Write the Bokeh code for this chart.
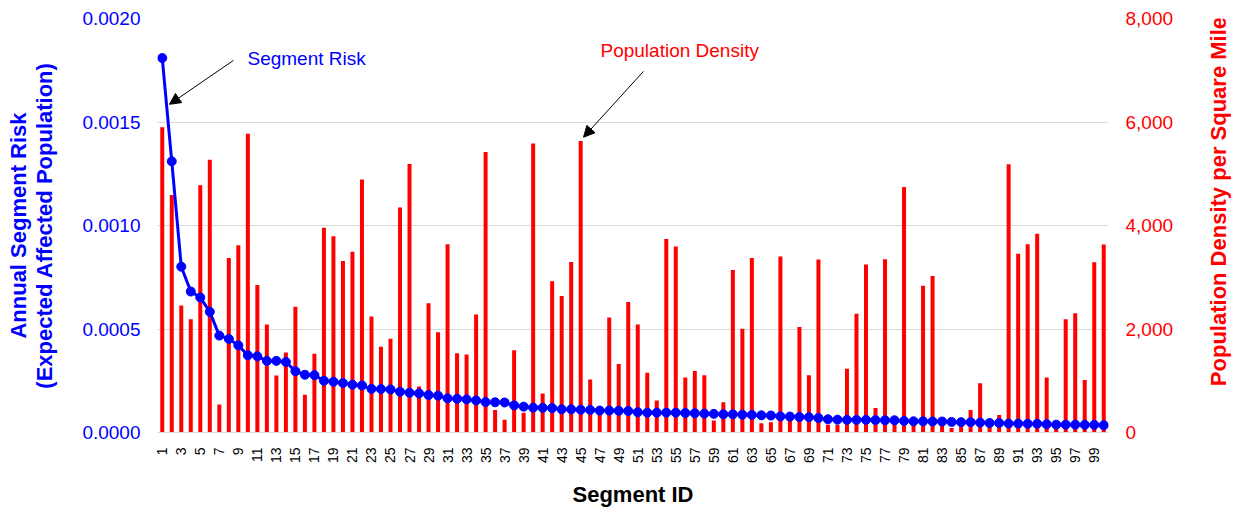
import math
from bokeh.plotting import figure
from bokeh.layouts import row
from bokeh.models import Range1d, LinearAxis, FixedTicker, NumeralTickFormatter, Label, Arrow, NormalHead, ColumnDataSource
from bokeh.embed import file_html
from bokeh.resources import INLINE

segment_ids = list(range(1, 101))

population_density = [
    5900, 4590, 2455, 2190, 4780, 5270, 540, 3370, 3620, 5775,
    2850, 2085, 1100, 1545, 2430, 730, 1520, 3955, 3790, 3315,
    3495, 4890, 2240, 1655, 1810, 4350, 5190, 890, 2500, 1935,
    3640, 1530, 1505, 2280, 5420, 435, 245, 1590, 380, 5585,
    755, 2925, 2640, 3295, 5635, 1025, 350, 2220, 1325, 2520,
    2085, 1155, 620, 3740, 3595, 1065, 1190, 1105, 230, 585,
    3140, 2005, 3370, 180, 200, 3400, 250, 2040, 1105, 3345,
    150, 150, 1230, 2295, 3245, 475, 3350, 300, 4745, 250,
    2835, 3025, 150, 85, 150, 435, 950, 150, 340, 5185,
    3455, 3640, 3840, 1065, 150, 2190, 2305, 1015, 3290, 3635,
]

segment_risk = [
    0.001809, 0.001310, 0.000801, 0.000681, 0.000652, 0.000583, 0.000468, 0.000452, 0.000421, 0.000373,
    0.000368, 0.000346, 0.000346, 0.000341, 0.000296, 0.000279, 0.000277, 0.000250, 0.000245, 0.000239,
    0.000231, 0.000227, 0.000211, 0.000210, 0.000208, 0.000197, 0.000192, 0.000189, 0.000181, 0.000178,
    0.000165, 0.000163, 0.000160, 0.000155, 0.000147, 0.000146, 0.000145, 0.000131, 0.000125, 0.000120,
    0.000119, 0.000118, 0.000112, 0.000112, 0.000110, 0.000109, 0.000106, 0.000106, 0.000105, 0.000104,
    0.000098, 0.000096, 0.000096, 0.000096, 0.000096, 0.000094, 0.000093, 0.000091, 0.000090, 0.000088,
    0.000088, 0.000086, 0.000085, 0.000083, 0.000082, 0.000078, 0.000077, 0.000075, 0.000074, 0.000070,
    0.000064, 0.000062, 0.000061, 0.000061, 0.000061, 0.000060, 0.000059, 0.000059, 0.000056, 0.000054,
    0.000054, 0.000053, 0.000053, 0.000051, 0.000050, 0.000050, 0.000048, 0.000046, 0.000046, 0.000043,
    0.000043, 0.000042, 0.000042, 0.000040, 0.000038, 0.000038, 0.000038, 0.000037, 0.000037, 0.000035,
]

x_ticks = list(range(1, 101, 2))
risk_ticks = [0.0, 0.0005, 0.0010, 0.0015, 0.0020]
density_ticks = [0, 2000, 4000, 6000, 8000]

FONT = "Liberation Sans"
BLUE = "#0000FF"
RED = "#FF0000"

src = ColumnDataSource(dict(x=segment_ids, density=population_density, risk=segment_risk))

p = figure(width=1205, height=510, x_range=Range1d(0.5, 100.5), y_range=Range1d(0, 0.002),
           output_backend="svg", toolbar_location=None,
           min_border_left=157, min_border_right=97, min_border_top=18, min_border_bottom=77)
p.outline_line_color = None
p.background_fill_color = "white"
p.border_fill_color = "white"
p.extra_y_ranges = {"density": Range1d(0, 8000)}

p.xgrid.grid_line_color = None
p.ygrid.grid_line_color = "#D9D9D9"
p.ygrid.grid_line_width = 1

# bars
p.vbar(x="x", top="density", width=0.42, fill_color=RED, line_color=None, y_range_name="density", source=src)
# line
p.line(x="x", y="risk", line_color=BLUE, line_width=3, source=src)
p.scatter(x="x", y="risk", size=9, fill_color=BLUE, line_color=BLUE, source=src)

# left axis
la = p.yaxis[0]
la.ticker = FixedTicker(ticks=risk_ticks)
la.formatter = NumeralTickFormatter(format="0.0000")
la.axis_line_color = None
la.major_tick_line_color = None
la.minor_tick_line_color = None
la.major_label_text_color = BLUE
la.major_label_text_font = FONT
la.major_label_text_font_size = "19px"
la.major_label_standoff = 11
la.axis_label = "Annual Segment Risk\n(Expected Affected Population)"
la.axis_label_text_color = BLUE
la.axis_label_text_font = FONT
la.axis_label_text_font_style = "bold"
la.axis_label_text_font_size = "22px"
la.axis_label_text_line_height = 1.05
la.axis_label_standoff = 22

# right axis (ticks)
ra = LinearAxis(y_range_name="density", ticker=FixedTicker(ticks=density_ticks),
                formatter=NumeralTickFormatter(format="0,0"))
ra.axis_line_color = None
ra.major_tick_line_color = None
ra.minor_tick_line_color = None
ra.major_label_text_color = RED
ra.major_label_text_font = FONT
ra.major_label_text_font_size = "19px"
ra.major_label_standoff = 11
p.add_layout(ra, "right")

# bottom axis
xa = p.xaxis[0]
xa.ticker = FixedTicker(ticks=x_ticks)
xa.axis_line_color = "#D9D9D9"
xa.major_tick_line_color = None
xa.minor_tick_line_color = None
xa.major_label_orientation = math.pi / 2
xa.major_label_text_font = FONT
xa.major_label_text_font_size = "14px"
xa.major_label_text_color = "black"
xa.major_label_standoff = 9
xa.axis_label = "Segment ID"
xa.axis_label_text_font = FONT
xa.axis_label_text_font_style = "bold"
xa.axis_label_text_font_size = "22px"
xa.axis_label_text_color = "black"
xa.axis_label_standoff = 16

# annotations
p.add_layout(Label(x=9.96, y=0.001807, text="Segment Risk", text_color=BLUE, text_font=FONT,
                   text_font_size="19px", text_baseline="middle", text_align="left"))
p.add_layout(Arrow(end=NormalHead(size=11, fill_color="black", line_color="black"),
                   x_start=8.49, y_start=0.0017976, x_end=1.76, y_end=0.0015855,
                   line_color="black", line_width=1))
p.add_layout(Label(x=47.08, y=0.0018458, text="Population Density", text_color=RED, text_font=FONT,
                   text_font_size="19px", text_baseline="middle", text_align="left"))
p.add_layout(Arrow(end=NormalHead(size=11, fill_color="black", line_color="black"),
                   x_start=51.6, y_start=0.0017446, x_end=45.3, y_end=0.0014265,
                   line_color="black", line_width=1))

# narrow strip on the right holding the right-axis title (reads bottom-to-top)
t = figure(width=34, height=510, x_range=Range1d(0, 1), y_range=Range1d(0, 510),
           output_backend="svg", toolbar_location=None,
           min_border_left=0, min_border_right=0, min_border_top=0, min_border_bottom=0)
t.axis.visible = False
t.grid.grid_line_color = None
t.outline_line_color = None
t.background_fill_color = "white"
t.border_fill_color = "white"
t.add_layout(Label(x=0.38, y=284.5, text="Population Density per Square Mile",
                   angle=90, angle_units="deg", text_align="center", text_baseline="middle",
                   text_color=RED, text_font=FONT, text_font_style="bold", text_font_size="22px"))

layout = row(p, t)
open("out.html", "w").write(file_html(layout, INLINE))
